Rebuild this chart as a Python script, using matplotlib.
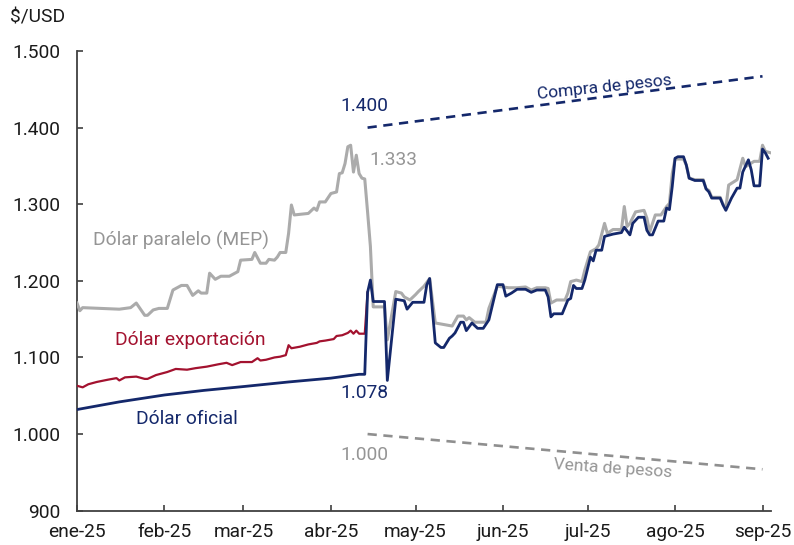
import matplotlib
matplotlib.use("Agg")
import matplotlib.pyplot as plt
import matplotlib.dates as mdates
from matplotlib.ticker import FuncFormatter, FixedLocator
import pandas as pd

plt.rcParams['font.family'] = ['Roboto', 'DejaVu Sans']

# ---------------- data ----------------
mep_dates = ["01-01","01-02","01-03","01-16","01-20","01-22","01-25","01-26","01-28","01-30",
             "02-02","02-04","02-06","02-07","02-09","02-11","02-13","02-14","02-16","02-17",
             "02-19","02-21","02-24","02-27","02-28","03-04","03-05","03-07","03-09","03-10",
             "03-12","03-13","03-14","03-16","03-17","03-18","03-19","03-24","03-26","03-27",
             "03-28","03-30","04-01","04-03","04-04","04-05","04-06","04-07","04-08","04-09",
             "04-10","04-11","04-12","04-13","04-14","04-15","04-16","04-20","04-21","04-24",
             "04-26","04-27","04-29","05-01","05-02","05-04","05-05","05-06","05-08","05-14",
             "05-16","05-18","05-19","05-20","05-22","05-26","05-27","05-30","06-01","06-03",
             "06-06","06-09","06-11","06-13","06-16","06-17","06-18","06-20","06-23","06-24",
             "06-25","06-27","06-29","06-30","07-02","07-04","07-05","07-07","07-08","07-10",
             "07-13","07-14","07-15","07-16","07-18","07-21","07-22","07-23","07-25","07-27",
             "07-29","07-30","07-31","08-01","08-04","08-05","08-06","08-08","08-11","08-12",
             "08-13","08-14","08-17","08-18","08-19","08-20","08-23","08-25","08-26","08-29",
             "08-31","09-01","09-02","09-04"]
mep_values = [1171,1161,1165,1163,1165,1171,1155,1155,1162,1164,
              1164,1188,1192,1194,1194,1181,1187,1184,1184,1210,
              1202,1206,1206,1212,1227,1228,1237,1223,1223,1228,
              1227,1231,1237,1237,1262,1299,1286,1288,1295,1292,
              1303,1303,1314,1316,1340,1341,1353,1375,1377,1342,
              1364,1340,1334,1333,1290,1245,1166,1166,1123,1186,
              1184,1179,1175,1182,1186,1193,1198,1203,1145,1141,
              1154,1154,1149,1152,1146,1146,1164,1193,1192,1191,
              1191,1192,1188,1191,1191,1190,1171,1175,1175,1184,
              1199,1201,1199,1214,1238,1242,1247,1275,1262,1267,
              1267,1297,1271,1275,1290,1292,1282,1264,1286,1286,
              1297,1301,1340,1359,1359,1351,1334,1332,1332,1320,
              1318,1309,1309,1300,1295,1325,1332,1360,1349,1356,
              1356,1377,1369,1367]

ofi_dates = ["01-01","01-16","02-01","02-15","03-01","03-17","04-01","04-11","04-13","04-14",
             "04-15","04-16","04-20","04-21","04-24","04-27","04-28","04-30","05-04","05-05",
             "05-06","05-08","05-10","05-11","05-13","05-14","05-15","05-17","05-18","05-19",
             "05-21","05-23","05-25","05-27","05-30","06-01","06-02","06-04","06-06","06-09",
             "06-10","06-11","06-13","06-16","06-17","06-18","06-19","06-22","06-24","06-25",
             "06-26","06-27","06-29","06-30","07-02","07-03","07-04","07-06","07-07","07-10",
             "07-13","07-14","07-16","07-17","07-19","07-21","07-22","07-23","07-24","07-26",
             "07-28","07-29","07-30","07-31","08-01","08-02","08-04","08-05","08-06","08-08",
             "08-11","08-12","08-13","08-14","08-17","08-18","08-19","08-21","08-23","08-24",
             "08-25","08-26","08-27","08-28","08-29","08-31","09-01","09-02","09-03"]
ofi_values = [1032,1042,1051,1057,1062,1068,1073,1078,1078,1185,
              1201,1173,1173,1070,1176,1174,1163,1172,1172,1195,
              1203,1119,1113,1113,1125,1128,1132,1146,1146,1135,
              1145,1138,1138,1149,1195,1195,1180,1184,1189,1189,
              1187,1185,1188,1188,1179,1153,1157,1157,1175,1177,
              1194,1190,1190,1201,1231,1226,1240,1240,1258,1261,
              1263,1270,1260,1275,1283,1283,1266,1260,1260,1278,
              1278,1295,1293,1323,1360,1362,1362,1351,1334,1331,
              1331,1320,1316,1308,1308,1299,1292,1308,1321,1321,
              1342,1350,1358,1345,1324,1324,1372,1367,1360]

exp_dates = ["01-01","01-03","01-05","01-08","01-12","01-15","01-16","01-18","01-22","01-25",
             "01-26","01-29","02-02","02-05","02-09","02-12","02-16","02-20","02-23","02-25",
             "02-28","03-04","03-06","03-07","03-09","03-12","03-14","03-16","03-17","03-18",
             "03-21","03-24","03-27","03-28","03-30","04-02","04-03","04-05","04-07","04-08",
             "04-09","04-10","04-11","04-13","04-14"]
exp_values = [1063,1061,1065,1068,1071,1073,1070,1074,1075,1072,
              1072,1077,1081,1085,1084,1086,1088,1091,1093,1090,
              1094,1094,1099,1096,1097,1100,1101,1103,1116,1112,
              1114,1117,1119,1121,1122,1124,1128,1129,1132,1135,
              1131,1135,1131,1131,1185]

band_dates = ["04-14", "09-01"]
band_upper = [1400, 1467]
band_lower = [1000, 954]

month_labels = ["ene-25","feb-25","mar-25","abr-25","may-25","jun-25","jul-25","ago-25","sep-25"]
y_ticks = [900, 1000, 1100, 1200, 1300, 1400, 1500]

def to_dt(lst):
    return pd.to_datetime(["2025-" + d for d in lst])

NAVY = "#14286b"
RED = "#a3122f"
GREY = "#ababab"
GREY_TXT = "#959595"
GREY_DASH = "#8f8f8f"

fig = plt.figure(figsize=(7.94, 5.45), dpi=100)
ax = fig.add_axes([0.097, 0.063, 0.874, 0.8434])

ax.plot(to_dt(band_dates), band_upper, color=NAVY, lw=1.9, ls=(0, (3.5, 2.5)))
ax.plot(to_dt(band_dates), band_lower, color=GREY_DASH, lw=1.9, ls=(0, (3.5, 2.5)))

ax.plot(to_dt(exp_dates), exp_values, color=RED, lw=1.6, zorder=3)
ax.plot(to_dt(mep_dates), mep_values, color=GREY, lw=2.2, zorder=4)
ax.plot(to_dt(ofi_dates), ofi_values, color=NAVY, lw=2.0, zorder=5)

ax.set_ylim(900, 1500)
ax.set_xlim(pd.Timestamp("2025-01-01"), pd.Timestamp("2025-09-04"))

month_starts = pd.date_range("2025-01-01", periods=9, freq="MS")
ax.xaxis.set_major_locator(FixedLocator(mdates.date2num(month_starts)))
ax.set_xticklabels(month_labels)
ax.set_yticks(y_ticks)
ax.yaxis.set_major_formatter(FuncFormatter(lambda v, p: f"{v:,.0f}".replace(",", ".")))

for s in ["top", "right"]:
    ax.spines[s].set_visible(False)
for s in ["left", "bottom"]:
    ax.spines[s].set_color("#404040")
    ax.spines[s].set_linewidth(1.3)
ax.tick_params(axis="both", direction="in", length=4, width=1.2, color="#404040",
               labelsize=13.8, labelcolor="#1a1a1a")
ax.tick_params(axis="y", pad=12)
ax.tick_params(axis="x", pad=9)

fs = 13.8
fig.text(10/794, 1 - 17/545, "$/USD", fontsize=fs, color="#1a1a1a", ha="left", va="center")

def T(d):
    return pd.Timestamp("2025-" + d)

ax.text(T("02-07"), 1253, "Dólar paralelo (MEP)", color=GREY_TXT, fontsize=fs, ha="center", va="center")
ax.text(T("02-10"), 1123, "Dólar exportación", color=RED, fontsize=fs, ha="center", va="center")
ax.text(T("02-09"), 1020, "Dólar oficial", color=NAVY, fontsize=fs, ha="center", va="center")
ax.text(T("04-13"), 1053, "1.078", color=NAVY, fontsize=fs, ha="center", va="center")
ax.text(T("04-13"), 973, "1.000", color=GREY_TXT, fontsize=fs, ha="center", va="center")
ax.text(T("04-13"), 1428, "1.400", color=NAVY, fontsize=fs, ha="center", va="center")
ax.text(T("04-23"), 1358, "1.333", color=GREY_TXT, fontsize=fs, ha="center", va="center")
ax.text(T("07-07"), 1452, "Compra de pesos", color=NAVY, fontsize=12.5, ha="center", va="center",
        rotation=6, rotation_mode="anchor")
ax.text(T("07-10"), 955, "Venta de pesos", color=GREY_TXT, fontsize=12.5, ha="center", va="center",
        rotation=-4, rotation_mode="anchor")

fig.savefig("out.png", dpi=100)
